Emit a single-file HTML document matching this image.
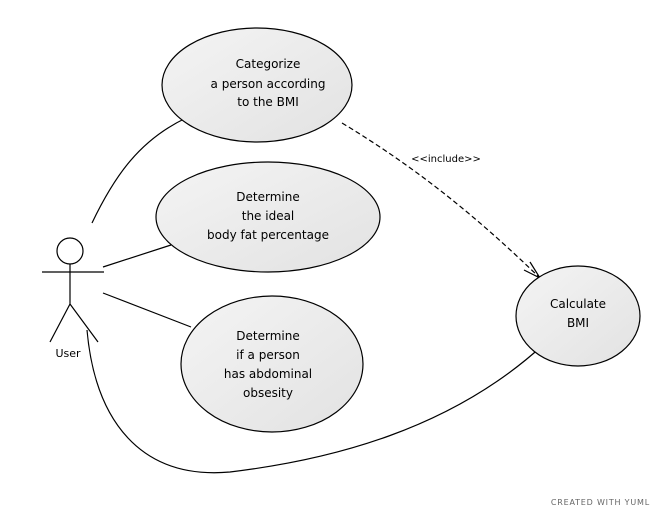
<!DOCTYPE html>
<html><head><style>body{margin:0;background:#fff}</style></head><body>
<svg width="668" height="518" xmlns="http://www.w3.org/2000/svg" font-family="'DejaVu Sans','Liberation Sans',sans-serif" font-size="12" fill="#000">
<defs><linearGradient id="g" x1="0" y1="0" x2="1" y2="1"><stop offset="0" stop-color="#f4f4f4"/><stop offset="1" stop-color="#e2e2e2"/></linearGradient></defs>
<g stroke="#000" stroke-width="1.2" fill="none">
<path d="M92,223 C115,175 140,140 186,118"/>
<path d="M103,267 L171,245"/>
<path d="M103,293 L191,327"/>
<path d="M87,330 C95,420 140,480 230,472 C330,460 450,430 543,345"/>
<path d="M342,123 C420,170 480,220 540,278" stroke-dasharray="5,3"/>
<path d="M530,262 L540,278 L524,270" />
<circle cx="70" cy="251" r="13"/>
<path d="M70,264 L70,304 M42,272 L104,272 M50,342 L70,304 L98,342"/>
</g>
<g stroke="#000" stroke-width="1.2" fill="url(#g)">
<ellipse cx="257" cy="85" rx="95" ry="57"/>
<ellipse cx="268" cy="217" rx="112" ry="55"/>
<ellipse cx="272" cy="364" rx="91" ry="68"/>
<ellipse cx="578" cy="316" rx="62" ry="50"/>
</g>
<g text-anchor="middle">
<text x="268" y="68">Categorize</text>
<text x="268" y="88">a person according</text>
<text x="268" y="106">to the BMI</text>
<text x="268" y="201">Determine</text>
<text x="268" y="220">the ideal</text>
<text x="268" y="239">body fat percentage</text>
<text x="268" y="340">Determine</text>
<text x="268" y="359">if a person</text>
<text x="268" y="378">has abdominal</text>
<text x="268" y="397">obsesity</text>
<text x="578" y="308">Calculate</text>
<text x="578" y="327">BMI</text>
<text x="68" y="357" font-size="11">User</text>
<text x="446" y="162" font-size="10">&lt;&lt;include&gt;&gt;</text>
</g>
<text x="650" y="505" text-anchor="end" font-size="8" fill="#666" letter-spacing="0.8">CREATED WITH YUML</text>
</svg>
</body></html>
